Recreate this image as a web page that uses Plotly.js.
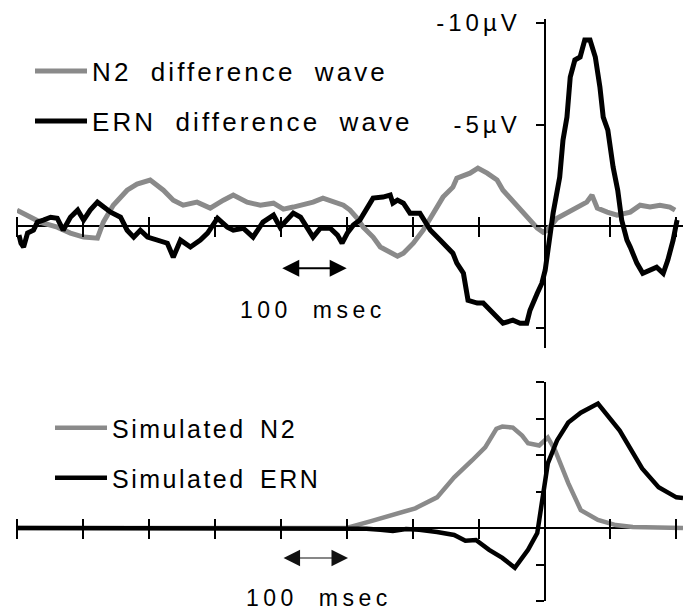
<!DOCTYPE html>
<html><head><meta charset="utf-8">
<script src="https://cdn.plot.ly/plotly-3.0.1.min.js"></script>
<style>
body{margin:0;padding:0;background:#fff;}
#chart{width:683px;height:610px;}
.annotation-text{letter-spacing:4.5px;word-spacing:10px;}
.ytick text{letter-spacing:4px;}
</style></head><body><div id="chart"></div>
<script>
// ---- Top panel: observed difference waves (ms, µV; negative plotted up) ----
const n2DiffTime = [-800,-791,-780,-765,-739,-719,-699,-678,-669,-654,-633,-618,-598,-578,-563,-548,-527,-507,-487,-472,-451,-431,-411,-396,-381,-366,-351,-336,-320,-305,-295,-284,-275,-260,-249,-234,-223,-214,-199,-184,-169,-154,-139,-133,-113,-101,-87,-72,-63,-52,-42,-33,-22,-11,-2,4,19,34,54,64,72,80,95,110,130,145,160,175,190,198];
const n2DiffVal = [-0.79,-0.64,-0.39,-0.20,0.05,0.34,0.54,0.59,-0.20,-1.03,-1.77,-2.07,-2.27,-1.77,-1.28,-1.03,-1.18,-0.89,-1.28,-1.53,-1.18,-1.03,-1.13,-0.84,-0.94,-1.03,-1.18,-1.38,-1.18,-1.03,-0.79,-0.39,0.05,0.54,1.03,1.28,1.48,1.33,0.84,0.20,-0.64,-1.43,-1.92,-2.36,-2.61,-2.86,-2.61,-2.27,-1.77,-1.38,-1.03,-0.64,-0.30,0.10,0.30,0.20,-0.39,-0.64,-1.03,-1.18,-1.53,-0.89,-0.69,-0.54,-0.69,-1.03,-0.94,-1.03,-0.94,-0.79];
const ernDiffTime = [-797,-794,-790,-784,-775,-769,-760,-749,-739,-730,-719,-708,-699,-689,-678,-669,-658,-643,-633,-623,-613,-602,-587,-572,-563,-552,-537,-522,-511,-496,-481,-472,-457,-442,-427,-411,-401,-390,-381,-370,-360,-351,-340,-325,-314,-307,-299,-290,-280,-269,-260,-245,-234,-230,-223,-214,-204,-189,-184,-173,-158,-148,-139,-133,-123,-116,-102,-93,-83,-72,-63,-48,-37,-27,-22,-11,-4,1,5,13,23,28,34,39,46,54,61,69,77,84,89,96,104,111,117,125,130,140,149,160,170,180,187,195,201];
const ernDiffVal = [0.44,0.84,1.03,0.34,0.20,-0.20,-0.30,-0.44,-0.39,0.20,-0.44,-0.79,-0.30,-0.79,-1.18,-0.94,-0.69,-0.44,0.20,0.54,0.20,0.54,0.69,0.84,1.53,0.69,1.03,0.69,0.34,-0.39,0.05,0.20,0.10,0.54,-0.20,-0.54,0.05,-0.30,-0.64,-0.44,0.05,0.54,0.10,0.10,0.44,0.84,0.34,-0.05,-0.30,-0.89,-1.38,-1.43,-1.53,-1.13,-1.28,-1.13,-0.64,-0.64,-0.39,0.20,0.69,1.03,1.33,1.82,2.32,3.65,3.79,3.79,4.14,4.48,4.78,4.63,4.78,4.78,4.14,3.30,2.81,2.17,1.18,-0.64,-2.41,-4.24,-5.37,-7.34,-8.18,-8.33,-9.16,-9.16,-8.33,-6.85,-5.37,-4.73,-2.91,-1.77,-0.30,0.69,1.03,1.82,2.32,2.17,2.02,2.32,1.67,0.69,-0.30];

// ---- Bottom panel: simulated waves (arbitrary units, positive up) ----
const simN2Time = [-800,-300,-263,-230,-196,-163,-137,-110,-90,-73,-64,-48,-34,-25,-8,5,16,36,55,81,108,134,210];
const simN2Val  = [0,0,0.19,0.35,0.54,0.84,1.39,1.85,2.21,2.72,2.78,2.75,2.53,2.32,2.26,2.48,2.13,1.23,0.49,0.22,0.08,0.03,0];
const simErnTime = [-800,-300,-270,-249,-230,-210,-190,-163,-137,-120,-104,-84,-64,-45,-25,-11,-1,5,19,36,55,81,114,148,173,200,210];
const simErnVal  = [0,0,-0.02,-0.05,-0.08,-0.03,-0.05,-0.11,-0.19,-0.35,-0.33,-0.60,-0.82,-1.09,-0.60,-0.14,0.95,1.77,2.40,2.89,3.16,3.41,2.67,1.63,1.12,0.84,0.82];

const xTickVals = [-800,-700,-600,-500,-400,-300,-200,-100,0,100,200];
const topYTickVals = [-10,-5,0,5];
const topYTickText = ['-10\u00B5V','-5\u00B5V','',''];
const botYTickVals = [-2,-1,0,1,2,3,4];
const legendNames = ['N2 difference wave','ERN difference wave','Simulated N2','Simulated ERN'];
const scaleLabel = '100 msec';

// ---- Geometry (pixels on a 683 x 610 page) ----
const W = 683, H = 610;
const xRange = [-800, 210];
const xDom = [17 / W, 1];
const topRange = [6, -10.2];
const topDom = [1 - 348 / H, 1 - 19 / H];
const botRange = [-2, 4];
const botDom = [1 - 601 / H, 1 - 382 / H];
const GRAY = '#8a8a8a';
const FONT = '"Liberation Sans", Arial, Helvetica, sans-serif';

function xPaper(v){ return xDom[0] + (v - xRange[0]) / (xRange[1] - xRange[0]) * (xDom[1] - xDom[0]); }
function yPaper(v, r, d){ return d[0] + (v - r[0]) / (r[1] - r[0]) * (d[1] - d[0]); }
const zeroX = xPaper(0);
const topZero = yPaper(0, topRange, topDom);
const botZero = yPaper(0, botRange, botDom);
const halfTick = 10 / H;

const traces = [
  {x: n2DiffTime, y: n2DiffVal, xaxis:'x', yaxis:'y', mode:'lines', name: legendNames[0], legend:'legend',
   line:{color:GRAY, width:5}},
  {x: ernDiffTime, y: ernDiffVal, xaxis:'x', yaxis:'y', mode:'lines', name: legendNames[1], legend:'legend2',
   line:{color:'#000', width:5}},
  {x: simN2Time, y: simN2Val, xaxis:'x2', yaxis:'y2', mode:'lines', name: legendNames[2], legend:'legend3',
   line:{color:GRAY, width:4.5}},
  {x: simErnTime, y: simErnVal, xaxis:'x2', yaxis:'y2', mode:'lines', name: legendNames[3], legend:'legend4',
   line:{color:'#000', width:4.5}}
];

const xCommon = {range: xRange, domain: xDom, anchor:'free', showline:false, showgrid:false, zeroline:false,
  ticks:'outside', ticklen:20, tickwidth:2, tickcolor:'#000', tickmode:'array', tickvals:xTickVals, showticklabels:false, fixedrange:true};
const legCommon = {bgcolor:'rgba(0,0,0,0)', borderwidth:0, xanchor:'left', yanchor:'middle', itemwidth:52,
  font:{family:FONT, size:26, color:'#000'}, itemclick:false, itemdoubleclick:false};

const layout = {
  width: W, height: H, margin:{l:0, r:0, t:0, b:0, pad:0},
  paper_bgcolor:'#fff', plot_bgcolor:'rgba(0,0,0,0)',
  font:{family:FONT, color:'#000'},
  showlegend:true,
  xaxis: Object.assign({}, xCommon, {position: topZero + halfTick}),
  xaxis2: Object.assign({}, xCommon, {position: botZero + halfTick}),
  yaxis: {range: topRange, domain: topDom, anchor:'free', position: zeroX, showline:true, linewidth:2, linecolor:'#000',
    showgrid:false, zeroline:true, zerolinewidth:2, zerolinecolor:'#000',
    ticks:'outside', ticklen:8, tickwidth:2, tickcolor:'#000', tickmode:'array', tickvals: topYTickVals, ticktext: topYTickText,
    tickfont:{family:FONT, size:24, color:'#000'}, ticklabelstandoff: 10, fixedrange:true},
  yaxis2: {range: botRange, domain: botDom, anchor:'free', position: zeroX, showline:true, linewidth:2, linecolor:'#000',
    showgrid:false, zeroline:true, zerolinewidth:2, zerolinecolor:'#000',
    ticks:'outside', ticklen:8, tickwidth:2, tickcolor:'#000', tickmode:'array', tickvals: botYTickVals,
    showticklabels:false, fixedrange:true},
  legend:  Object.assign({}, legCommon, {x: 30 / W, y: 1 - 71 / H}),
  legend2: Object.assign({}, legCommon, {x: 30 / W, y: 1 - 121 / H}),
  legend3: Object.assign({}, legCommon, {x: 50 / W, y: 1 - 428 / H, font:{family:FONT, size:25, color:'#000'}}),
  legend4: Object.assign({}, legCommon, {x: 50 / W, y: 1 - 478 / H, font:{family:FONT, size:25, color:'#000'}}),
  annotations: [
    {xref:'x', yref:'y', axref:'x', ayref:'y', x:-300, y:2.07, ax:-400, ay:2.07, text:'', showarrow:true,
     arrowside:'end+start', arrowhead:2, startarrowhead:2, arrowsize:1.7, startarrowsize:1.7, arrowwidth:2, arrowcolor:'#000'},
    {xref:'x', yref:'y', x:-351, y:4.14, text: scaleLabel, showarrow:false, xanchor:'center', yanchor:'middle',
     font:{family:FONT, size:23, color:'#000'}},
    {xref:'x2', yref:'y2', axref:'x2', ayref:'y2', x:-298, y:-0.82, ax:-398, ay:-0.82, text:'', showarrow:true,
     arrowside:'end+start', arrowhead:2, startarrowhead:2, arrowsize:3, startarrowsize:3, arrowwidth:1.1, arrowcolor:'#111'},
    {xref:'x2', yref:'y2', x:-342, y:-1.92, text: scaleLabel, showarrow:false, xanchor:'center', yanchor:'middle',
     font:{family:FONT, size:23, color:'#000'}}
  ]
};

Plotly.newPlot('chart', traces, layout, {staticPlot:true, displayModeBar:false}).then(function(gd){
  // widen legend lettering like the scanned original, and let the wider text show
  gd.querySelectorAll('text').forEach(function(t){
    const s = t.textContent;
    if (s === legendNames[0] || s === legendNames[1]) {
      t.style.letterSpacing = '3.1px'; t.style.wordSpacing = '9px';
    } else if (s === legendNames[2] || s === legendNames[3]) {
      t.style.letterSpacing = '2.5px'; t.style.wordSpacing = '5px';
    }
  });
  gd.querySelectorAll('.infolayer [clip-path]').forEach(function(e){ e.removeAttribute('clip-path'); });
});
</script></body></html>
